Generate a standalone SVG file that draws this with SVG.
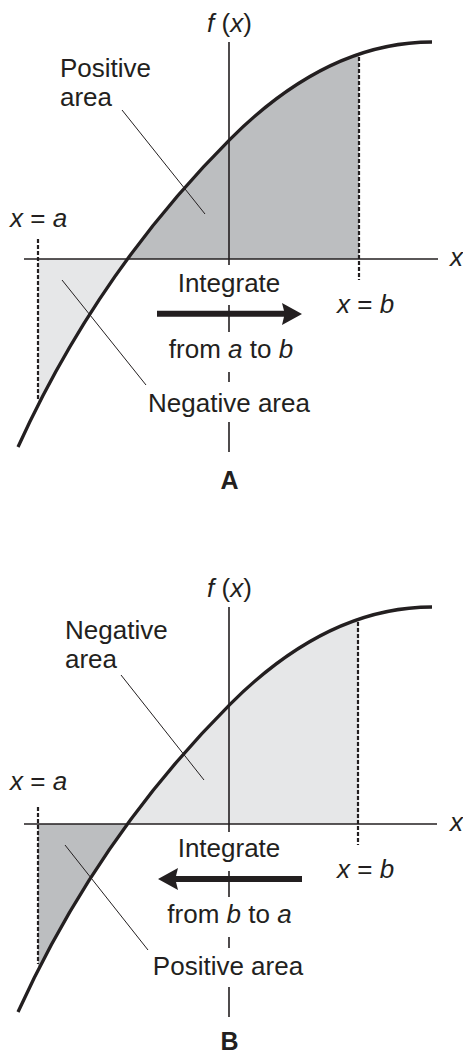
<svg xmlns="http://www.w3.org/2000/svg" width="463" height="1055" viewBox="0 0 463 1055">
<style>
text{font-family:"Liberation Sans",Arial,sans-serif;font-size:26px;fill:#231f20}
.i{font-style:italic}
.b{font-weight:bold;font-size:25px}
.axis{stroke:#231f20;stroke-width:1.6;fill:none}
.curve{stroke:#231f20;stroke-width:3.3;fill:none;stroke-linecap:butt}
.dash{stroke:#231f20;stroke-width:2.2;fill:none;stroke-dasharray:4 2}
.lead{stroke:#231f20;stroke-width:1;fill:none}
.dark{fill:#bcbec0}
.light{fill:#e6e7e8}
.arrow{fill:#231f20}
</style>
<defs>
<clipPath id="up"><rect x="38" y="0" width="321" height="259"/></clipPath>
<clipPath id="down"><rect x="38" y="259" width="321" height="200"/></clipPath>
<path id="region" d="M18,447 C83,304 165,204.3 230,139.3 C285,84.3 352,42 432,42 L432,259 L18,259 Z"/>
</defs>

<g id="panelA">
  <g id="fillsA">
    <use href="#region" class="dark" clip-path="url(#up)"/>
    <use href="#region" class="light" clip-path="url(#down)"/>
  </g>
  <g id="axesA">
    <line class="axis" x1="24" y1="259" x2="438" y2="259"/>
    <line class="axis" x1="229" y1="42" x2="229" y2="265"/>
    <line class="axis" x1="229" y1="305" x2="229" y2="332"/>
    <line class="axis" x1="229" y1="372" x2="229" y2="382"/>
    <line class="axis" x1="229" y1="422" x2="229" y2="452"/>
    <line class="dash" x1="38" y1="239" x2="38" y2="401"/>
    <line class="dash" x1="359" y1="57" x2="359" y2="280"/>
  </g>
  <g id="curveA"><path class="curve" d="M18,447 C83,304 165,204.3 230,139.3 C285,84.3 352,42 432,42"/></g>
  <g id="connectorsA">
    <line class="lead" x1="122" y1="110" x2="205" y2="214"/>
    <line class="lead" x1="62" y1="280" x2="146" y2="385"/>
    <path class="arrow" d="M157,310.7 L284,310.7 L282,303 L302,314 L282,325 L284,316.7 L157,316.7 Z"/>
  </g>
  <g id="labelsA">
    <text x="229.5" y="32" text-anchor="middle"><tspan class="i">f</tspan> (<tspan class="i">x</tspan>)</text>
    <text x="60" y="77">Positive<tspan x="60" dy="29">area</tspan></text>
    <text x="10" y="227"><tspan class="i">x</tspan> = <tspan class="i">a</tspan></text>
    <text x="450" y="266" class="i">x</text>
    <text x="229" y="292" text-anchor="middle">Integrate</text>
    <text x="337" y="313"><tspan class="i">x</tspan> = <tspan class="i">b</tspan></text>
    <text x="231" y="358" text-anchor="middle">from <tspan class="i">a</tspan> to <tspan class="i">b</tspan></text>
    <text x="229" y="412" text-anchor="middle">Negative area</text>
    <text x="229.5" y="489" text-anchor="middle" class="b">A</text>
  </g>
</g>

<g id="panelB" transform="translate(0,565)">
  <g id="fillsB">
    <use href="#region" class="light" clip-path="url(#up)"/>
    <use href="#region" class="dark" clip-path="url(#down)"/>
  </g>
  <g id="axesB">
    <line class="axis" x1="24" y1="259" x2="437" y2="259"/>
    <line class="axis" x1="229" y1="42" x2="229" y2="267"/>
    <line class="axis" x1="229" y1="306" x2="229" y2="332"/>
    <line class="axis" x1="229" y1="372" x2="229" y2="383"/>
    <line class="axis" x1="229" y1="422" x2="229" y2="452"/>
    <line class="dash" x1="38" y1="242" x2="38" y2="399"/>
    <line class="dash" x1="358" y1="57" x2="358" y2="280"/>
  </g>
  <g id="curveB"><path class="curve" d="M18,447 C83,304 165,204.3 230,139.3 C285,84.3 352,42 432,42"/></g>
  <g id="connectorsB">
    <line class="lead" x1="121" y1="110" x2="204" y2="215"/>
    <line class="lead" x1="65" y1="280" x2="148" y2="385"/>
    <path class="arrow" d="M302,311 L176,311 L178,303 L158,314 L178,325 L176,317 L302,317 Z"/>
  </g>
  <g id="labelsB">
    <text x="229.5" y="32" text-anchor="middle"><tspan class="i">f</tspan> (<tspan class="i">x</tspan>)</text>
    <text x="65" y="74">Negative<tspan x="65" dy="29">area</tspan></text>
    <text x="10" y="225"><tspan class="i">x</tspan> = <tspan class="i">a</tspan></text>
    <text x="450" y="266" class="i">x</text>
    <text x="229" y="292" text-anchor="middle">Integrate</text>
    <text x="337" y="313"><tspan class="i">x</tspan> = <tspan class="i">b</tspan></text>
    <text x="229.5" y="358" text-anchor="middle">from <tspan class="i">b</tspan> to <tspan class="i">a</tspan></text>
    <text x="228" y="410" text-anchor="middle">Positive area</text>
    <text x="229.5" y="485" text-anchor="middle" class="b">B</text>
  </g>
</g>
</svg>
